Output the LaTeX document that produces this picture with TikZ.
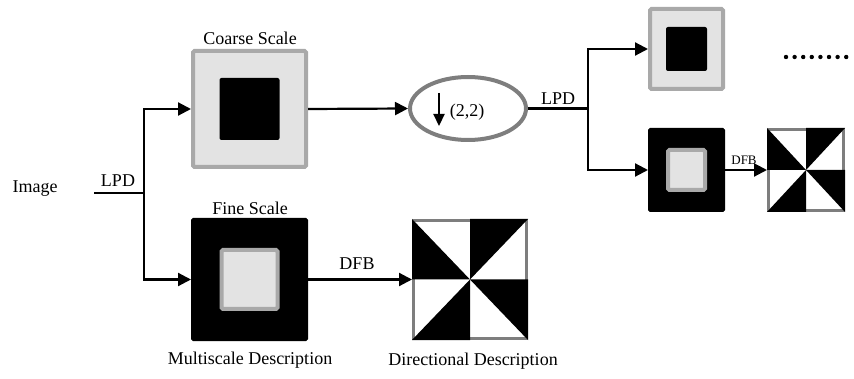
\documentclass[tikz,border=0pt]{standalone}
\usepackage{fontspec}
\setmainfont{Liberation Serif}
\usetikzlibrary{arrows.meta,shapes.geometric}

\definecolor{boxgray}{HTML}{A9A9A9}
\definecolor{lightfill}{HTML}{E3E3E3}
\definecolor{edgegray}{HTML}{7E7E7E}

\tikzset{
  lbl/.style={font=\fontsize{18}{20}\selectfont, inner sep=0pt},
  smalllbl/.style={font=\fontsize{13}{15}\selectfont, inner sep=0pt},
  conn/.style={line width=2.2pt, -{Triangle[length=13pt,width=13pt]}},
  plain/.style={line width=2.2pt},
  lightbox/.style={rectangle, rounded corners=1.5pt, draw=boxgray, line width=4pt,
    fill=lightfill, inner sep=0pt},
  darkbox/.style={rectangle, rounded corners=1.5pt, draw=black, line width=1pt,
    fill=black, inner sep=0pt},
  innerdark/.style={rectangle, rounded corners=2pt, fill=black, inner sep=0pt},
  innerlight/.style={rectangle, rounded corners=1.5pt, draw=boxgray, line width=4pt,
    fill=lightfill, inner sep=0pt},
  dirbox/.style={rectangle, draw=edgegray, line width=3pt, fill=white, inner sep=0pt},
  dotmark/.style={circle, fill=black, inner sep=0pt, minimum size=4.4pt},
}

% pinwheel of four black triangles inside a directional box
\newcommand{\pinwheel}[1]{%
  \fill[black] (#1.north west) -- (#1.west) -- (#1.center) -- cycle;
  \fill[black] (#1.north) -- (#1.north east) -- (#1.center) -- cycle;
  \fill[black] (#1.center) -- (#1.east) -- (#1.south east) -- cycle;
  \fill[black] (#1.center) -- (#1.south) -- (#1.south west) -- cycle;
}

\begin{document}
\begin{tikzpicture}[x=1pt, y=-1pt]
\useasboundingbox (0,0) rectangle (854,379);

% input and first decomposition
\node[lbl] (img) at (35,189) {Image};
\coordinate (start) at (94,193);
\coordinate (j1) at (144,193);
\node[lbl] (lpd1) at (118,181) {LPD};

% coarse scale
\node[lightbox, minimum width=113pt, minimum height=116pt] (coarse) at (249.5,109) {};
\node[innerdark, minimum width=60pt, minimum height=62pt] (coarsein) at (coarse.center) {};
\node[lbl] (coarselbl) at (250,38) {Coarse Scale};

% fine scale
\node[darkbox, minimum width=116pt, minimum height=122pt] (fine) at (249.5,279.5) {};
\node[innerlight, minimum width=56pt, minimum height=59pt] (finein) at (fine.center) {};
\node[lbl] (finelbl) at (250,208) {Fine Scale};
\node[lbl] (multi) at (250,360) {Multiscale Description};

% directional subbands
\node[dirbox, minimum width=113pt, minimum height=118pt] (dir) at (470,279.5) {};
\pinwheel{dir}
\node[lbl] (dirlbl) at (473,361) {Directional Description};
\node[lbl] (dfb1) at (357,264) {DFB};

% downsampling
\node[ellipse, draw=edgegray, line width=4pt, minimum width=116pt, minimum height=63pt,
  inner sep=0pt] (down) at (468,108.5) {};
\coordinate (dtop) at (439,93);
\coordinate (dbot) at (439,126);
\node[lbl] (ratio) at (467,112) {(2,2)};
\coordinate (j2) at (588,108.5);
\node[lbl] (lpd2) at (558,99) {LPD};

% second level
\node[lightbox, minimum width=73pt, minimum height=80pt] (top) at (686.5,49) {};
\node[innerdark, minimum width=41pt, minimum height=44pt] (topin) at (top.center) {};
\node[darkbox, minimum width=76pt, minimum height=83pt] (bot) at (686.5,170) {};
\node[innerlight, minimum width=37pt, minimum height=40pt] (botin) at (bot.center) {};
\node[dirbox, minimum width=75pt, minimum height=81pt] (dir2) at (806,170) {};
\pinwheel{dir2}
\node[smalllbl] (dfb2) at (744,160) {DFB};

% continuation dots
\foreach \i in {0,...,7}
  \node[dotmark] (dot\i) at (786+8.6*\i,57) {};

% connectors
\draw[plain] (start) -- (j1);
\draw[conn] (j1) |- (coarse.west);
\draw[conn] (j1) |- (fine.west);
\draw[conn] (coarse.east) -- (down.west);
\draw[conn] (fine.east) -- (dir.west);
\draw[plain] (down.east) -- (j2);
\draw[conn] (j2) |- (top.west);
\draw[conn] (j2) |- (bot.west);
\draw[conn] (bot.east) -- (dir2.west);
\draw[line width=2.2pt, -{Triangle[length=12pt,width=11pt]}] (dtop) -- (dbot);
\end{tikzpicture}
\end{document}
